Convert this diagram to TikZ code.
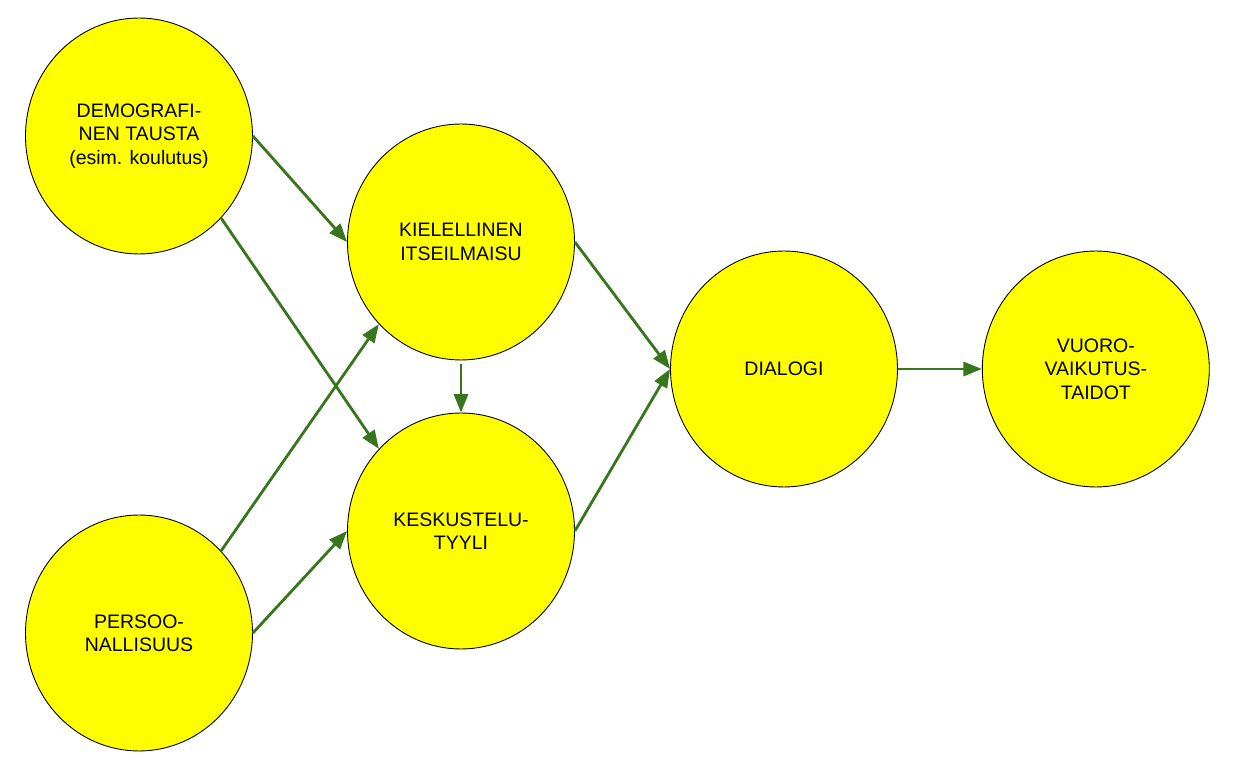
\documentclass[tikz,border=0pt]{standalone}
\usepackage{fontspec}
\setmainfont{Liberation Sans}
\usetikzlibrary{arrows.meta,shapes,positioning,calc}
\definecolor{linkgreen}{HTML}{38761D}
\definecolor{factoryellow}{RGB}{255,255,0}
\tikzstyle{factor}=[ellipse,draw=black,line width=0.5pt,fill=factoryellow,minimum width=4.54cm,minimum height=4.72cm,inner sep=0pt,align=center,font=\fontsize{11.1}{13.3}\selectfont]
\tikzstyle{link}=[-{Triangle[length=10.5pt,width=8pt]},draw=linkgreen,line width=1.6pt]

\begin{document}
\begin{tikzpicture}[x=0.02cm,y=-0.02cm]
  \useasboundingbox (0,0) rectangle (1242,763);

  \node[factor] (demo) at (139,136) {DEMOGRAFI-\\NEN TAUSTA\\(esim. koulutus)};
  \node[factor] (pers) at (139,633) {PERSOO-\\NALLISUUS};
  \node[factor] (kiel) at (461,242) {KIELELLINEN\\ITSEILMAISU};
  \node[factor] (kesk) at (461,531) {KESKUSTELU-\\TYYLI};
  \node[factor] (dial) at (784,369) {DIALOGI};
  \node[factor, right = 1.68cm of dial] (vuor) {VUORO-\\VAIKUTUS-\\TAIDOT};

  \path (demo.east) edge[link] (kiel.west);
  \path (demo.-45) edge[link] (kesk.135);
  \path (pers.45) edge[link] (kiel.-135);
  \path (pers.east) edge[link] (kesk.west);
  \path (kiel.south) edge[link, shorten <=0.08cm] (kesk.north);
  \path (kiel.east) edge[link] (dial.west);
  \path (kesk.east) edge[link] (dial.west);
  \path (dial.east) edge[link] (vuor.west);
\end{tikzpicture}
\end{document}
